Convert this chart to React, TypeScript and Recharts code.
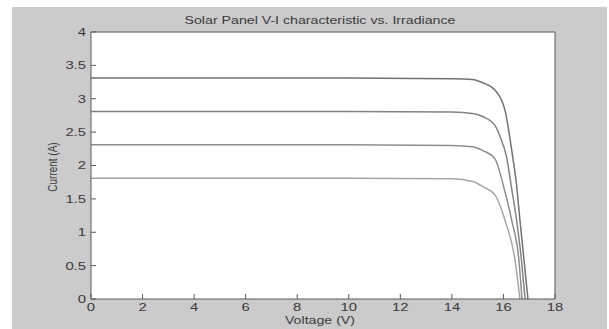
import React from 'react';
import { LineChart, Line, XAxis, YAxis, CartesianGrid, Customized } from 'recharts';

// Voltage (V) / Current (A) samples, one array per irradiance level
const curve1000 = [
  { v: 0, i: 3.31 }, { v: 10, i: 3.31 }, { v: 14, i: 3.3 }, { v: 14.8, i: 3.29 },
  { v: 15.2, i: 3.24 }, { v: 15.67, i: 3.13 }, { v: 16.06, i: 2.83 }, { v: 16.32, i: 2.23 },
  { v: 16.51, i: 1.7 }, { v: 16.64, i: 1.18 }, { v: 16.8, i: 0.58 }, { v: 16.95, i: 0 },
];
const curve850 = [
  { v: 0, i: 2.81 }, { v: 10, i: 2.81 }, { v: 14, i: 2.8 }, { v: 14.8, i: 2.78 },
  { v: 15.22, i: 2.73 }, { v: 15.67, i: 2.6 }, { v: 15.9, i: 2.4 }, { v: 16.12, i: 2.13 },
  { v: 16.32, i: 1.65 }, { v: 16.51, i: 1.18 }, { v: 16.7, i: 0.58 }, { v: 16.84, i: 0 },
];
const curve700 = [
  { v: 0, i: 2.31 }, { v: 10, i: 2.31 }, { v: 14, i: 2.3 }, { v: 14.8, i: 2.28 },
  { v: 15.22, i: 2.22 }, { v: 15.67, i: 2.1 }, { v: 16.03, i: 1.65 }, { v: 16.32, i: 1.18 },
  { v: 16.6, i: 0.58 }, { v: 16.72, i: 0 },
];
const curve550 = [
  { v: 0, i: 1.81 }, { v: 10, i: 1.81 }, { v: 14, i: 1.8 }, { v: 14.8, i: 1.76 },
  { v: 15.22, i: 1.68 }, { v: 15.67, i: 1.56 }, { v: 16.06, i: 1.18 }, { v: 16.45, i: 0.58 },
  { v: 16.64, i: 0 },
];

const xTicks = [0, 2, 4, 6, 8, 10, 12, 14, 16, 18];
const yTicks = [0, 0.5, 1, 1.5, 2, 2.5, 3, 3.5, 4];

const title = 'Solar Panel V-I characteristic vs. Irradiance';
const xLabel = 'Voltage (V)';
const yLabel = 'Current (A)';

const FONT = '"Liberation Sans", Arial, sans-serif';
const AXIS = '#5a5a5a';
const TEXT = '#3a3a3a';
const SX = 1.35; // the reference image is stretched horizontally
const blank = () => '';

const stretch = (x: number) => `translate(${x} 0) scale(${SX} 1) translate(${-x} 0)`;

const XTick = (props: any) => {
  const { x, y, payload } = props;
  return (
    <text x={x} y={y} dy="0.71em" textAnchor="middle" fontSize={11} fontFamily={FONT} fill={TEXT} transform={stretch(x)}>
      {payload.value}
    </text>
  );
};

const YTick = (props: any) => {
  const { x, y, payload } = props;
  return (
    <text x={x} y={y} dy="0.355em" textAnchor="end" fontSize={11} fontFamily={FONT} fill={TEXT} transform={stretch(x)}>
      {payload.value}
    </text>
  );
};

const Titles = () => (
  <g fontFamily={FONT} fill={TEXT}>
    <text x={320} y={20} dy="0.355em" textAnchor="middle" fontSize={10.5} transform={stretch(320)}>
      {title}
    </text>
    <text x={320} y={320} dy="0.355em" textAnchor="middle" fontSize={10.5} transform={stretch(320)}>
      {xLabel}
    </text>
    <g transform={`translate(52 167) scale(${SX} 1) rotate(-90)`}>
      <text x={0} y={0} dy="0.355em" textAnchor="middle" fontSize={10}>
        {yLabel}
      </text>
    </g>
  </g>
);

export default function App() {
  return (
    <div style={{ position: 'fixed', left: 0, top: 0, width: 609, height: 329, overflow: 'hidden', background: '#fff' }}>
      <div style={{ position: 'absolute', left: 12, top: 7, width: 595, height: 322, background: '#cbcbcb' }} />
      <div style={{ position: 'absolute', left: 0, top: 0 }}>
        <LineChart width={609} height={329} margin={{ top: 32, right: 54, bottom: 0, left: 41 }}>
          <CartesianGrid horizontal={false} vertical={false} fill="#ffffff" fillOpacity={1} />
          <XAxis
            type="number"
            dataKey="v"
            domain={[0, 18]}
            ticks={xTicks}
            height={30}
            tickSize={-5}
            tickMargin={9}
            stroke={AXIS}
            tick={<XTick />}
            allowDataOverflow
          />
          <XAxis
            xAxisId="top"
            orientation="top"
            mirror
            type="number"
            dataKey="v"
            domain={[0, 18]}
            ticks={xTicks}
            tickSize={5}
            tickFormatter={blank}
            stroke={AXIS}
          />
          <YAxis
            type="number"
            domain={[0, 4]}
            ticks={yTicks}
            width={50}
            tickSize={-5}
            tickMargin={10}
            stroke={AXIS}
            tick={<YTick />}
          />
          <YAxis
            yAxisId="right"
            orientation="right"
            mirror
            type="number"
            domain={[0, 4]}
            ticks={yTicks}
            tickSize={5}
            tickFormatter={blank}
            stroke={AXIS}
          />
          <Line data={curve1000} dataKey="i" type="monotone" stroke="#727272" strokeWidth={1.5} dot={false} isAnimationActive={false} />
          <Line data={curve850} dataKey="i" type="monotone" stroke="#828282" strokeWidth={1.5} dot={false} isAnimationActive={false} />
          <Line data={curve700} dataKey="i" type="monotone" stroke="#8e8e8e" strokeWidth={1.5} dot={false} isAnimationActive={false} />
          <Line data={curve550} dataKey="i" type="monotone" stroke="#a6a6a6" strokeWidth={1.5} dot={false} isAnimationActive={false} />
          <Customized component={Titles} />
        </LineChart>
      </div>
    </div>
  );
}
